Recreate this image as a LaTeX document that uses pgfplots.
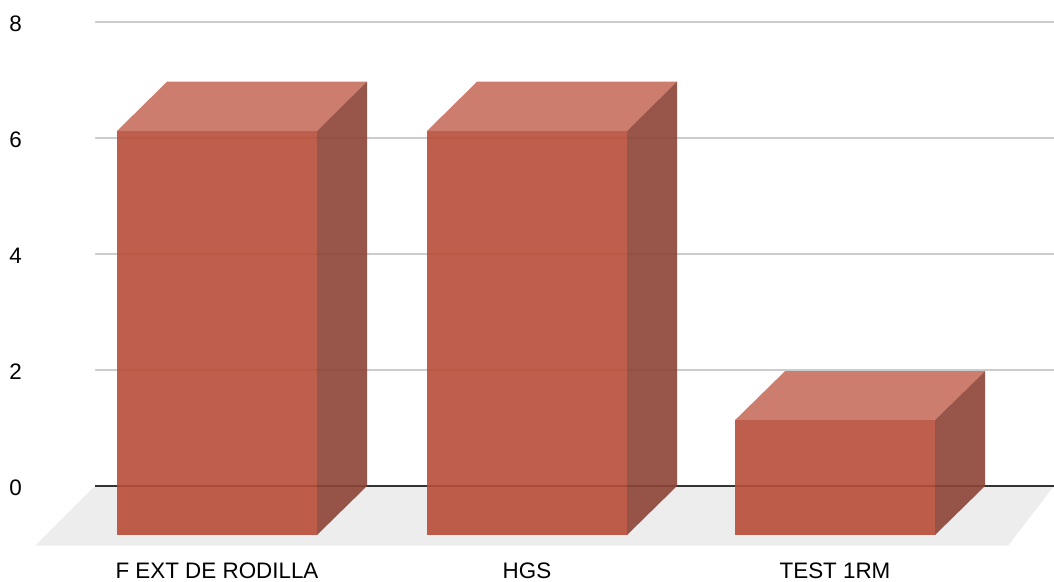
\documentclass[border=0pt]{standalone}
\usepackage{fontspec}
\setmainfont{Liberation Sans}
\usepackage{pgfplots}
\pgfplotsset{compat=1.18}
\definecolor{frontc}{RGB}{183,77,56}
\definecolor{topc}{RGB}{199,111,94}
\definecolor{sidec}{RGB}{141,67,54}
\definecolor{floorc}{RGB}{237,237,237}
\definecolor{gridc}{RGB}{204,204,204}
\begin{document}
\begin{tikzpicture}
\begin{axis}[
  set layers,
  width=479.5pt, height=290.5pt, scale only axis,
  xmin=95, xmax=1054, ymin=-1.638, ymax=8.379,
  clip=false,
  axis line style={draw=none},
  tick style={draw=none},
  ytick={2,4,6,8},
  extra y ticks={0},
  extra y tick style={grid style={draw=black!80, line width=1pt}},
  ymajorgrids,
  grid style={gridc, line width=1pt},
  xtick={217,527,835},
  xticklabels={F EXT DE RODILLA, HGS, TEST 1RM},
  font=\fontsize{11.2}{13}\selectfont,
  /pgf/number format/assume math mode=true,
  yticklabel style={anchor=west, inner sep=0pt, xshift=-43pt, yshift=-1pt},
  xticklabel style={anchor=base, inner sep=0pt, yshift=1.5pt},
]
% floor
\addplot[on layer=axis background, fill=floorc, draw=none] coordinates {(35,-1.03) (95,0) (1054,0) (1008,-1.03)} -- cycle;
% F EXT DE RODILLA = 7
\addplot[fill=frontc, fill opacity=0.9, draw=none] coordinates {(117,-0.845) (317,-0.845) (317,6.12) (117,6.12)} -- cycle;
\addplot[fill=topc, fill opacity=0.9, draw=none] coordinates {(117,6.12) (167,6.97) (367,6.97) (317,6.12)} -- cycle;
\addplot[fill=sidec, fill opacity=0.9, draw=none] coordinates {(317,-0.845) (367,0) (367,6.97) (317,6.12)} -- cycle;
% HGS = 7
\addplot[fill=frontc, fill opacity=0.9, draw=none] coordinates {(427,-0.845) (627,-0.845) (627,6.12) (427,6.12)} -- cycle;
\addplot[fill=topc, fill opacity=0.9, draw=none] coordinates {(427,6.12) (477,6.97) (677,6.97) (627,6.12)} -- cycle;
\addplot[fill=sidec, fill opacity=0.9, draw=none] coordinates {(627,-0.845) (677,0) (677,6.97) (627,6.12)} -- cycle;
% TEST 1RM = 2
\addplot[fill=frontc, fill opacity=0.9, draw=none] coordinates {(735,-0.845) (935,-0.845) (935,1.135) (735,1.135)} -- cycle;
\addplot[fill=topc, fill opacity=0.9, draw=none] coordinates {(735,1.135) (785,1.98) (985,1.98) (935,1.135)} -- cycle;
\addplot[fill=sidec, fill opacity=0.9, draw=none] coordinates {(935,-0.845) (985,0) (985,1.98) (935,1.135)} -- cycle;
\coordinate (bl) at (axis cs:0,-1.638);
\coordinate (tr) at (axis cs:1054,8.379);
\end{axis}
\pgfresetboundingbox
\path[use as bounding box] (bl) rectangle (tr);
\end{tikzpicture}
\end{document}
